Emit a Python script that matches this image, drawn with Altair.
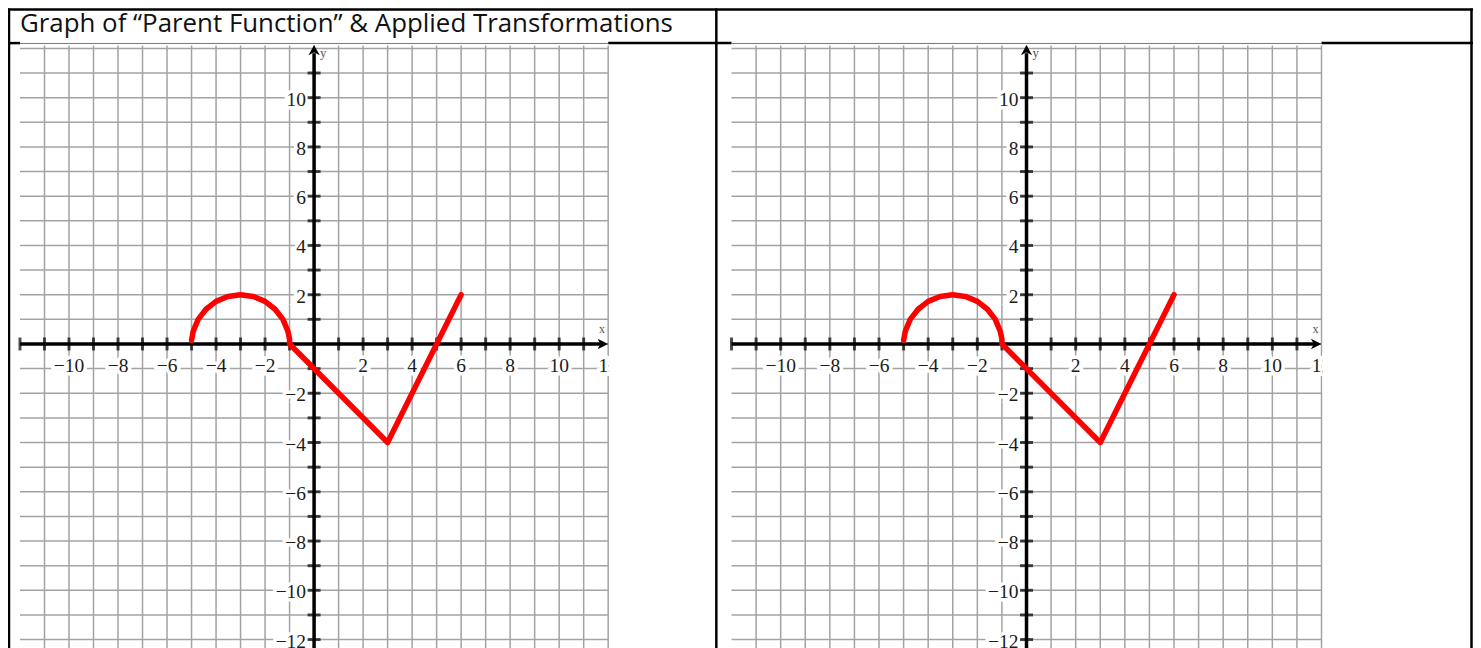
import altair as alt
import pandas as pd

# ---------------- data ----------------
TITLE = "Graph of \u201cParent Function\u201d & Applied Transformations"
grid_x = list(range(-11, 13))                      # vertical grid lines
grid_y = list(range(-12, 13))                      # horizontal grid lines
tick_x = [v for v in range(-12, 12) if v != 0]     # ticks on x axis
tick_y = [v for v in range(-12, 12) if v != 0]     # ticks on y axis
label_x = [-10, -8, -6, -4, -2, 2, 4, 6, 8, 10, 12]
label_y = [10, 8, 6, 4, 2, -2, -4, -6, -8, -10, -12]
# red graph: upper half-circle then two segments
curve_x = [-5, -4.93, -4.73, -4.41, -4, -3.52, -3, -2.48, -2, -1.59, -1.27, -1.07, -1.0, -1, 3, 6]
curve_y = [0.15, 0.52, 1.0, 1.41, 1.73, 1.93, 2.0, 1.93, 1.73, 1.41, 1.0, 0.52, 0.2, 0, -4, 2]


def fmt(v):
    return str(v) if v >= 0 else "\u2212" + str(-v)


df_gx = pd.DataFrame({"gx": grid_x})
df_gy = pd.DataFrame({"gy": grid_y})
df_tx = pd.DataFrame({"tx": tick_x})
df_ty = pd.DataFrame({"ty": tick_y})
df_lx = pd.DataFrame({"lx": label_x, "txt": [fmt(v) for v in label_x]})
df_ly = pd.DataFrame({"ly": label_y, "txt": [fmt(v) for v in label_y]})
df_curve = pd.DataFrame({"cx": curve_x, "cy": curve_y, "i": list(range(len(curve_x)))})
df_title = pd.DataFrame({"t": [TITLE]})
one = pd.DataFrame({"a": [0]})

W, H = 1467, 650
YS = alt.Scale(domain=[-12, 12], range=[632, 40], nice=False, zero=False)
GRID = "#a3a3a3"
AX = "#000000"
LBL = "#1b1b1b"
SERIF = "Liberation Serif"

ARROW_R = "M0,0 L-1,-0.5 L-0.72,0 L-1,0.5 Z"
ARROW_U = "M0,0 L-0.55,1 L0,0.72 L0.55,1 Z"


def panel(r0, r1):
    XS = alt.Scale(domain=[-12, 12], range=[r0, r1], nice=False, zero=False)

    def X(f):
        return alt.X(f, type="quantitative", scale=XS, axis=None)

    def Y(f):
        return alt.Y(f, type="quantitative", scale=YS, axis=None)

    def XD(v):
        return alt.XDatum(v, scale=XS, axis=None)

    def YD(v):
        return alt.YDatum(v, scale=YS, axis=None)

    vgrid = alt.Chart(df_gx).mark_rule(color=GRID, strokeWidth=1.5).encode(
        x=X("gx"), y=YD(12.12), y2=alt.Y2Datum(-12.9))
    hgrid = alt.Chart(df_gy).mark_rule(color=GRID, strokeWidth=1.5).encode(
        y=Y("gy"), x=XD(-12), x2=alt.X2Datum(12))
    topline = alt.Chart(one).mark_rule(color="#777777", strokeWidth=1).encode(
        y=YD(12.2), x=XD(-12), x2=alt.X2Datum(12))

    xl_halo = alt.Chart(df_lx).mark_text(
        font=SERIF, fontSize=19.5, baseline="middle", align="center", dy=-3,
        color="white", stroke="white", strokeWidth=7).encode(
        x=X("lx"), y=YD(-1), text="txt:N")
    xl = alt.Chart(df_lx).mark_text(
        font=SERIF, fontSize=19.5, baseline="middle", align="center", dy=-3,
        color=LBL).encode(x=X("lx"), y=YD(-1), text="txt:N")
    yl_halo = alt.Chart(df_ly).mark_text(
        font=SERIF, fontSize=19.5, baseline="middle", align="right", dx=-8, dy=2,
        color="white", stroke="white", strokeWidth=7).encode(
        x=XD(0), y=Y("ly"), text="txt:N")
    yl = alt.Chart(df_ly).mark_text(
        font=SERIF, fontSize=19.5, baseline="middle", align="right", dx=-8, dy=2,
        color=LBL).encode(x=XD(0), y=Y("ly"), text="txt:N")
    mask = alt.Chart(one).mark_rect(color="white").encode(
        x=XD(12.04), x2=alt.X2Datum(12.9), y=YD(-0.3), y2=alt.Y2Datum(-1.9))

    xaxis = alt.Chart(one).mark_rule(color=AX, strokeWidth=3.5).encode(
        y=YD(0), x=XD(-12), x2=alt.X2Datum(11.7))
    yaxis = alt.Chart(one).mark_rule(color=AX, strokeWidth=3.5).encode(
        x=XD(0), y=YD(11.8), y2=alt.Y2Datum(-12.9))
    xticks = alt.Chart(df_tx).mark_tick(color=AX, orient="vertical", size=13, thickness=3).encode(
        x=X("tx"), y=YD(0))
    yticks = alt.Chart(df_ty).mark_tick(color=AX, orient="horizontal", size=13, thickness=3).encode(
        y=Y("ty"), x=XD(0))
    arr_r = alt.Chart(one).mark_point(shape=ARROW_R, filled=True, size=450, color=AX, opacity=1).encode(
        x=XD(12), y=YD(0))
    arr_u = alt.Chart(one).mark_point(shape=ARROW_U, filled=True, size=420, color=AX, opacity=1).encode(
        x=XD(0), y=YD(12.14))
    ylet = alt.Chart(one).mark_text(font=SERIF, fontSize=13, align="left", baseline="middle",
                                     color="#555555", dx=6).encode(
        x=XD(0), y=YD(11.8), text=alt.value("y"))
    xlet = alt.Chart(one).mark_text(font=SERIF, fontSize=12, align="center", baseline="middle",
                                     color="#555555").encode(
        x=XD(11.75), y=YD(0.62), text=alt.value("x"))

    curve = alt.Chart(df_curve).mark_line(color="#ff0000", strokeWidth=5.5, strokeCap="round",
                                          strokeJoin="round").encode(
        x=X("cx"), y=Y("cy"), order="i:Q")

    return alt.layer(vgrid, hgrid, topline, xl_halo, xl, yl_halo, yl, mask,
                     xaxis, yaxis, xticks, yticks, arr_r, arr_u, ylet, xlet, curve)


# ---------------- table frame ----------------
def hrule(y, x0, x1, w=2.5):
    return alt.Chart(one).mark_rule(color="black", strokeWidth=w).encode(
        y=alt.value(y), x=alt.value(x0), x2=alt.value(x1))


def vrule(x, y0, y1, w=2.5):
    return alt.Chart(one).mark_rule(color="black", strokeWidth=w).encode(
        x=alt.value(x), y=alt.value(y0), y2=alt.value(y1))


frame = [
    hrule(1, 0, W),
    vrule(1, 0, H),
    vrule(709.3, 0, H),
    vrule(1465.5, 0, H),
    hrule(34.7, 0, 12),
    hrule(34.7, 601, 724.5),
    hrule(34.7, 1315.3, W),
]

title = alt.Chart(df_title).mark_text(
    font="Open Sans", fontSize=25.9, align="left", baseline="alphabetic", color="#111111").encode(
    x=alt.value(12), y=alt.value(24), text="t:N")

chart = alt.layer(
    *frame, title,
    panel(12, 601),
    panel(724.5, 1315.3),
).resolve_scale(x="independent").properties(
    width=W, height=H, autosize=alt.AutoSizeParams(type="none"), padding=0,
).configure_view(stroke=None)

chart.save("out.html", embed_options={"renderer": "svg", "actions": False})
